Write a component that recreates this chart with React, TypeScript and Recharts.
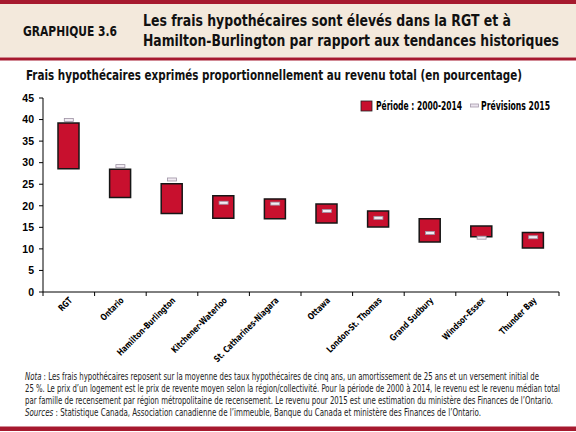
import React from 'react';
import { ComposedChart, Bar, Scatter, XAxis, YAxis } from 'recharts';

const categories = [
  'RGT',
  'Ontario',
  'Hamilton-Burlington',
  'Kitchener-Waterloo',
  'St. Catharines-Niagara',
  'Ottawa',
  'London-St. Thomas',
  'Grand Sudbury',
  'Windsor-Essex',
  'Thunder Bay',
];
const periodLow = [28.6, 21.9, 18.2, 17.1, 17.0, 16.0, 15.1, 11.6, 12.8, 10.2];
const periodHigh = [39.2, 28.5, 25.1, 22.3, 21.6, 20.4, 18.8, 17.0, 15.3, 13.8];
const forecast2015 = [39.9, 29.2, 26.1, 20.7, 20.5, 18.8, 17.2, 13.7, 12.6, 12.7];
const yTicks = [0, 5, 10, 15, 20, 25, 30, 35, 40, 45];

const chartLabel = 'GRAPHIQUE 3.6';
const titleLines = [
  'Les frais hypothécaires sont élevés dans la RGT et à',
  'Hamilton-Burlington par rapport aux tendances historiques',
];
const subtitle = 'Frais hypothécaires exprimés proportionnellement au revenu total (en pourcentage)';
const legendPeriod = 'Période : 2000-2014';
const legendForecast = 'Prévisions 2015';
const noteLines = [
  { lead: 'Nota', rest: ' : Les frais hypothécaires reposent sur la moyenne des taux hypothécaires de cinq ans, un amortissement de 25 ans et un versement initial de' },
  { lead: '', rest: '25 %. Le prix d\u2019un logement est le prix de revente moyen selon la région/collectivité. Pour la période de 2000 à 2014, le revenu est le revenu médian total' },
  { lead: '', rest: 'par famille de recensement par région métropolitaine de recensement. Le revenu pour 2015 est une estimation du ministère des Finances de l\u2019Ontario.' },
  { lead: 'Sources', rest: ' : Statistique Canada, Association canadienne de l\u2019immeuble, Banque du Canada et ministère des Finances de l\u2019Ontario.' },
];

const data = categories.map((name, i) => ({
  name,
  range: [periodLow[i], periodHigh[i]],
  forecast: forecast2015[i],
}));

const W = 576;
const H = 432;
const MARGIN = { top: 98, right: 17, bottom: 80, left: 13 };
const Y_AXIS_W = 30;
const X_AXIS_H = 60;
const BAND = (W - MARGIN.left - MARGIN.right - Y_AXIS_W) / categories.length;

const NARROW = '"Liberation Sans Narrow", "Arial Narrow", "DejaVu Sans Condensed", "Liberation Sans", sans-serif';
const REGULAR = '"Liberation Sans", Arial, sans-serif';
const RED = '#c8102e';
const DARK_RED = '#a6192e';
const BEIGE = '#f3e9dc';

function XTick(props: any) {
  const { x, y, payload, index } = props;
  const left = x - BAND / 2;
  const right = x + BAND / 2;
  const ax = x + 4;
  const ay = y + 9;
  return (
    <g>
      <line x1={left} x2={left} y1={y} y2={y + 4} stroke="#000" strokeWidth={1} />
      {index === categories.length - 1 && (
        <line x1={right} x2={right} y1={y} y2={y + 4} stroke="#000" strokeWidth={1} />
      )}
      <text
        x={0}
        y={0}
        transform={`translate(${ax}, ${ay}) rotate(-45) scale(0.84, 1)`}
        textAnchor="end"
        fontFamily={NARROW}
        fontWeight="bold"
        fontSize={9}
        fill="#000"
      >
        {payload.value}
      </text>
    </g>
  );
}

function ForecastMark(props: any) {
  const { cx, cy } = props;
  if (cx == null || cy == null) return null;
  return (
    <rect
      x={cx - 4.5}
      y={cy - 1.5}
      width={9}
      height={3}
      fill="#f1ebf2"
      stroke="#9d92a3"
      strokeWidth={0.8}
    />
  );
}

export default function App() {
  return (
    <div style={{ position: 'absolute', left: 0, top: 0, width: W, height: H, background: '#fff', overflow: 'hidden' }}>
      <ComposedChart width={W} height={H} data={data} margin={MARGIN}>
        <XAxis
          dataKey="name"
          height={X_AXIS_H}
          interval={0}
          tickLine={false}
          tickSize={0}
          tickMargin={0}
          axisLine={{ stroke: '#000', strokeWidth: 1 }}
          tick={<XTick />}
        />
        <YAxis
          width={Y_AXIS_W}
          domain={[0, 45]}
          ticks={yTicks}
          interval={0}
          tickSize={4}
          tickMargin={5}
          axisLine={{ stroke: '#000', strokeWidth: 1 }}
          tickLine={{ stroke: '#000', strokeWidth: 1 }}
          tick={{ fill: '#000', fontSize: 10.5, fontWeight: 'bold', fontFamily: REGULAR }}
        />
        <Bar
          dataKey="range"
          barSize={21}
          fill={RED}
          stroke="#161616"
          strokeWidth={1.5}
          isAnimationActive={false}
        />
        <Scatter dataKey="forecast" shape={<ForecastMark />} isAnimationActive={false} />
      </ComposedChart>

      <svg
        width={W}
        height={H}
        style={{ position: 'absolute', left: 0, top: 0, pointerEvents: 'none' }}
      >
        {/* header band */}
        <rect x={0} y={0} width={W} height={4} fill={DARK_RED} />
        <rect x={0} y={4} width={W} height={53.5} fill={BEIGE} />
        <rect x={0} y={57.5} width={W} height={3} fill={DARK_RED} />
        <text x={23} y={36} fontFamily={NARROW} fontWeight="bold" fontSize={13.5} fill="#111" textLength={94} lengthAdjust="spacingAndGlyphs">
          {chartLabel}
        </text>
        <text x={143} y={26} fontFamily={NARROW} fontWeight="bold" fontSize={16.5} fill="#111" textLength={368} lengthAdjust="spacingAndGlyphs">
          {titleLines[0]}
        </text>
        <text x={143} y={46} fontFamily={NARROW} fontWeight="bold" fontSize={16.5} fill="#111" textLength={416} lengthAdjust="spacingAndGlyphs">
          {titleLines[1]}
        </text>
        <text x={26} y={79.5} fontFamily={NARROW} fontWeight="bold" fontSize={13.5} fill="#111" textLength={496} lengthAdjust="spacingAndGlyphs">
          {subtitle}
        </text>

        {/* legend */}
        <rect x={361} y={101} width={11} height={10} fill={RED} stroke="#222" strokeWidth={0.8} />
        <text x={376} y={110} fontFamily={NARROW} fontWeight="bold" fontSize={11.5} fill="#000" textLength={86} lengthAdjust="spacingAndGlyphs">
          {legendPeriod}
        </text>
        <rect x={470.5} y={104} width={8} height={3} fill="#ebe4ee" stroke="#a59aab" strokeWidth={0.8} />
        <text x={481} y={110} fontFamily={NARROW} fontWeight="bold" fontSize={11.5} fill="#000" textLength={69} lengthAdjust="spacingAndGlyphs">
          {legendForecast}
        </text>

        {/* notes */}
        {noteLines.map((ln, i) => {
          const ends = [539, 560, 553, 481];
          return (
            <text
              key={i}
              x={25}
              y={379.5 + i * 12}
              fontFamily={NARROW}
              fontSize={10}
              fill="#222"
              textLength={ends[i] - 25}
              lengthAdjust="spacingAndGlyphs"
            >
              {ln.lead && <tspan fontStyle="italic">{ln.lead}</tspan>}
              <tspan>{ln.rest}</tspan>
            </text>
          );
        })}
        <rect x={0} y={426.5} width={W} height={4.5} fill={DARK_RED} />
      </svg>
    </div>
  );
}
